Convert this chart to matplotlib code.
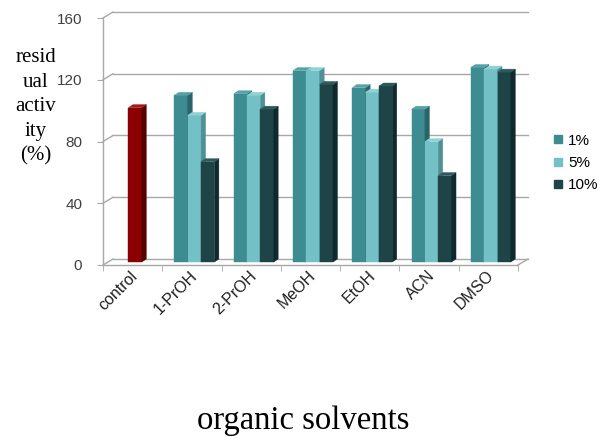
"""Residual activity in organic solvents: pseudo-3D clustered columns."""

import matplotlib
matplotlib.use("Agg")
import matplotlib.pyplot as plt
from matplotlib.lines import Line2D
from matplotlib.patches import Polygon

CATEGORIES = ["control", "1-PrOH", "2-PrOH", "MeOH", "EtOH", "ACN", "DMSO"]
CONTROL_VALUE = 100
SERIES_LABELS = ["1%", "5%", "10%"]
VAL_1 = [108, 109, 124, 113, 99, 126]
VAL_5 = [95, 108, 124, 110, 78, 125]
VAL_10 = [65, 99, 115, 114, 56, 123]
Y_TICKS = [0, 40, 80, 120, 160]

SANS = "Liberation Sans"
SERIF = "Liberation Serif"

# face colours: front, side, top
CONTROL_COLORS = ("#8B0000", "#560000", "#A51A1A")
SERIES_COLORS = [
    ("#3D8C91", "#2A6468", "#55A3A8"),
    ("#73C1C6", "#4E9195", "#8ED2D6"),
    ("#1E4447", "#0F2A2C", "#2E5A5D"),
]
GRID_COLOR = "#A8A8A8"

# figure geometry in pixels (front plane of the plot box)
FIG_W, FIG_H = 605, 438
X0_PX, X1_PX = 103, 518
Y0_PX, Y1_PX = 265, 18
PX_X = len(CATEGORIES) / (X1_PX - X0_PX)
PX_Y = 160 / (Y0_PX - Y1_PX)

WALL_DX, WALL_DY = 10 * PX_X, 6 * PX_Y
BAR_DX0, BAR_DY0 = 2.5 * PX_X, 3 * PX_Y
BAR_DX, BAR_DY = 4.5 * PX_X, 3 * PX_Y
BAR_W = 13.3 * PX_X


def draw_bar(ax, left, value, colors):
    front, side, top = colors
    x0 = left + BAR_DX0
    y0 = BAR_DY0
    ax.bar(x0, value, width=BAR_W, bottom=y0, align="edge", color=front,
           edgecolor=front, linewidth=0.3, zorder=3, clip_on=False)
    x1 = x0 + BAR_W
    y1 = y0 + value
    ax.add_patch(Polygon(
        [(x1, y0), (x1 + BAR_DX, y0 + BAR_DY), (x1 + BAR_DX, y1 + BAR_DY), (x1, y1)],
        closed=True, facecolor=side, edgecolor=side, linewidth=0.3,
        zorder=3, clip_on=False))
    ax.add_patch(Polygon(
        [(x0, y1), (x0 + BAR_DX, y1 + BAR_DY), (x1 + BAR_DX, y1 + BAR_DY), (x1, y1)],
        closed=True, facecolor=top, edgecolor=top, linewidth=0.3,
        zorder=3, clip_on=False))


def main():
    fig = plt.figure(figsize=(FIG_W / 100, FIG_H / 100), dpi=100)
    ax = fig.add_axes([
        X0_PX / FIG_W,
        1 - Y0_PX / FIG_H,
        (X1_PX - X0_PX) / FIG_W,
        (Y0_PX - Y1_PX) / FIG_H,
    ])
    n = len(CATEGORIES)
    ax.set_xlim(0, n)
    ax.set_ylim(0, 160)

    # back wall gridlines and left wall diagonals
    for v in Y_TICKS:
        ax.plot([WALL_DX, n + WALL_DX], [v + WALL_DY] * 2, color=GRID_COLOR,
                linewidth=1.0, zorder=1, clip_on=False)
        ax.plot([0, WALL_DX], [v, v + WALL_DY], color=GRID_COLOR,
                linewidth=1.0, zorder=1, clip_on=False)
    ax.plot([n, n + WALL_DX], [0, WALL_DY], color=GRID_COLOR,
            linewidth=1.0, zorder=1, clip_on=False)

    # control bar centred in its slot
    draw_bar(ax, 0.5 - BAR_W / 2, CONTROL_VALUE, CONTROL_COLORS)

    series = [VAL_1, VAL_5, VAL_10]
    for i in range(1, n):
        start = i + 0.5 - 1.5 * BAR_W
        for k, vals in enumerate(series):
            draw_bar(ax, start + k * BAR_W, vals[i - 1], SERIES_COLORS[k])

    for side in ("top", "right"):
        ax.spines[side].set_visible(False)
    for side in ("left", "bottom"):
        ax.spines[side].set_color(GRID_COLOR)
        ax.spines[side].set_linewidth(1.0)

    ax.set_yticks(Y_TICKS)
    ax.set_yticklabels([str(v) for v in Y_TICKS], fontfamily=SANS,
                       fontsize=11, color="#404040")
    ax.tick_params(axis="y", length=4, color=GRID_COLOR, pad=11)

    ax.set_xticks([i + 0.5 + 3 * PX_X for i in range(n)])
    ax.set_xticks(range(n + 1), minor=True)
    ax.set_xticklabels(CATEGORIES, fontfamily=SANS, fontsize=11.5,
                       color="#202020", rotation=45, ha="right", va="center",
                       rotation_mode="anchor")
    ax.tick_params(axis="x", which="major", length=0, pad=6)
    ax.tick_params(axis="x", which="minor", length=4, color=GRID_COLOR)

    handles = [
        Line2D([], [], marker="s", linestyle="none", markersize=5.5,
               color=c[0], label=lab)
        for c, lab in zip(SERIES_COLORS, SERIES_LABELS)
    ]
    fig.legend(handles=handles, loc="center left",
               bbox_to_anchor=(553 / FIG_W, 1 - 163 / FIG_H),
               frameon=False, prop={"family": SANS, "size": 11},
               handlelength=0.7, handletextpad=0.3, labelspacing=0.55,
               borderpad=0, borderaxespad=0)

    fig.text(36 / FIG_W, 1 - 107 / FIG_H, "resid\nual\nactiv\nity\n(%)",
             ha="center", va="center", multialignment="center",
             fontfamily=SERIF, fontsize=15, linespacing=1.4)
    fig.text(303 / FIG_W, 1 - 421 / FIG_H, "organic solvents",
             ha="center", va="center", fontfamily=SERIF, fontsize=23.5)

    fig.savefig("out.png", dpi=100)
    plt.close(fig)


if __name__ == "__main__":
    main()
